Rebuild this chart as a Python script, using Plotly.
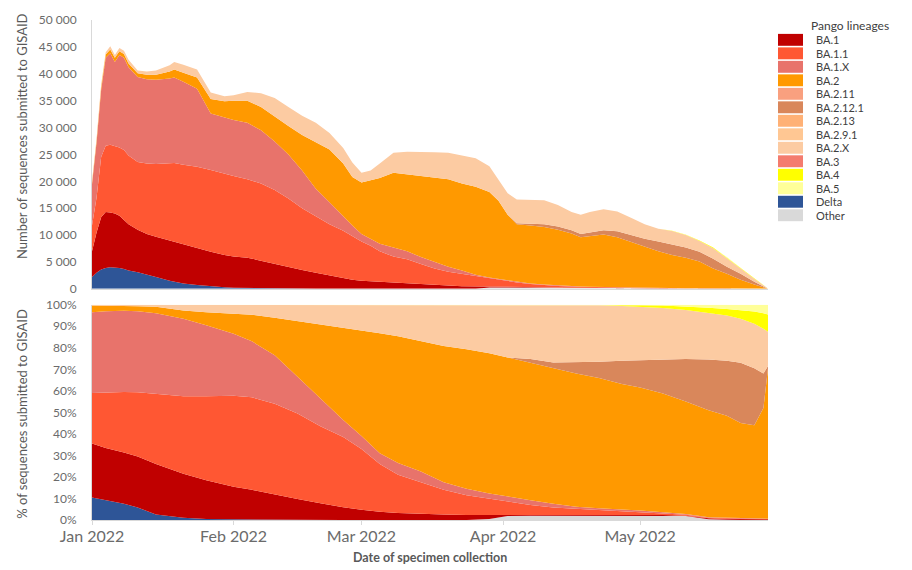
import pandas as pd
import plotly.graph_objects as go

START = pd.Timestamp("2022-01-01")

# ---------------- daily sequence counts (top panel) ----------------
count_days = [0, 1, 2, 3, 4, 5, 6, 7, 8, 10, 12, 14, 17, 18, 20, 23, 26, 29, 31, 34,
              37, 40, 43, 46, 49, 52, 55, 57, 59, 61, 63, 66, 69, 72, 75, 78, 81, 84, 87, 89,
              91, 93, 96, 99, 102, 105, 107, 109, 112, 115, 118, 121, 124, 127, 130, 133, 136, 139, 142, 145,
              147, 148]

other_n = [0, 0, 0, 0, 0, 0, 0, 0, 0, 0, 0, 0, 0, 0, 0, 0, 0, 0, 0, 0,
           0, 0, 0, 0, 0, 0, 0, 0, 0, 0, 0, 0, 0, 0, 0, 0, 0, 0, 250, 250,
           250, 250, 220, 220, 180, 180, 180, 180, 140, 140, 110, 90, 90, 70, 60, 50, 0, 0, 0, 0,
           0, 0]
delta_n = [2200, 3000, 3600, 3900, 4000, 4000, 3900, 3700, 3400, 3100, 2600, 2200, 1500, 1300, 1000, 700, 450, 300, 200, 150,
           100, 100, 50, 30, 20, 10, 0, 0, 0, 0, 0, 0, 0, 0, 0, 0, 0, 0, 0, 0,
           0, 0, 0, 0, 0, 0, 0, 0, 0, 0, 0, 0, 0, 0, 0, 0, 0, 0, 0, 0,
           0, 0]
ba1_n = [4800, 7500, 9700, 10400, 10200, 10000, 9700, 9100, 8600, 7900, 7600, 7500, 7500, 7400, 7200, 6800, 6450, 6000, 5800, 5650,
         5100, 4500, 4050, 3470, 2980, 2490, 2000, 1700, 1500, 1400, 1300, 1100, 950, 800, 700, 600, 500, 450, 150, 100,
         50, 50, 30, 30, 20, 20, 20, 20, 10, 10, 10, 10, 10, 10, 10, 10, 50, 40, 30, 20,
         10, 0]
ba11_n = [4800, 6500, 11200, 12300, 12600, 12500, 12700, 13000, 12800, 12600, 13100, 13500, 14300, 14700, 14900, 15200, 15200, 15100, 15000, 14600,
          14400, 13800, 12700, 11500, 10500, 9500, 8800, 8100, 7300, 6600, 5700, 4900, 4550, 3800, 3100, 2600, 2300, 1850, 1500, 1350,
          1100, 900, 650, 450, 350, 250, 200, 150, 150, 100, 80, 70, 50, 40, 30, 20, 20, 10, 10, 10,
          0, 0]
ba1x_n = [7600, 10200, 12500, 16400, 17000, 15700, 17200, 17200, 16400, 15800, 15700, 15700, 15800, 15900, 15400, 14500, 10500, 10400, 10400, 10500,
          9900, 9000, 8200, 7000, 5100, 4100, 2600, 2000, 1400, 1300, 1400, 1700, 1500, 1300, 1200, 900, 600, 300, 200, 200,
          200, 150, 100, 100, 70, 50, 50, 50, 40, 30, 30, 20, 20, 20, 20, 20, 10, 10, 10, 0,
          0, 0]
ba2_n = [300, 400, 500, 600, 700, 800, 700, 700, 700, 700, 800, 900, 1300, 1500, 1700, 2100, 2700, 3100, 3600, 4100,
         4300, 4600, 5300, 6600, 8600, 9800, 9900, 9000, 9600, 10900, 12200, 13900, 14300, 15100, 15600, 16300, 16200, 16400, 15900, 14500,
         12200, 10650, 10800, 10700, 10380, 9800, 9150, 9400, 9760, 9320, 8470, 7610, 6830, 6160, 5680, 5000, 3720, 2740, 1650, 770,
         240, 20]
ba2121_n = [0, 0, 0, 0, 0, 0, 0, 0, 0, 0, 0, 0, 0, 0, 0, 0, 0, 0, 0, 0,
            0, 0, 0, 0, 0, 0, 0, 0, 0, 0, 0, 0, 0, 0, 0, 0, 0, 0, 0, 0,
            0, 200, 300, 500, 600, 600, 600, 700, 800, 1100, 1300, 1500, 1800, 1900, 1900, 1800, 1800, 1300, 1100, 500,
            150, 10]
ba2x_n = [300, 400, 500, 400, 600, 500, 600, 600, 700, 500, 600, 800, 1200, 1400, 1500, 1500, 1200, 900, 1000, 1600,
          2600, 3500, 3500, 3600, 3700, 3100, 2900, 2700, 1800, 1800, 2700, 3700, 4200, 4500, 4800, 4900, 5200, 5300, 4800, 4000,
          4000, 4400, 4500, 4500, 4000, 3400, 3600, 3800, 3900, 3700, 3200, 2700, 2400, 2550, 2300, 1980, 1950, 1650, 1000, 600,
          260, 15]
ba4_n = [0, 0, 0, 0, 0, 0, 0, 0, 0, 0, 0, 0, 0, 0, 0, 0, 0, 0, 0, 0,
         0, 0, 0, 0, 0, 0, 0, 0, 0, 0, 0, 0, 0, 0, 0, 0, 0, 0, 0, 0,
         0, 0, 0, 0, 0, 0, 0, 0, 0, 0, 0, 0, 0, 50, 80, 100, 120, 120, 100, 70,
         30, 5]
ba5_n = [0, 0, 0, 0, 0, 0, 0, 0, 0, 0, 0, 0, 0, 0, 0, 0, 0, 0, 0, 0,
         0, 0, 0, 0, 0, 0, 0, 0, 0, 0, 0, 0, 0, 0, 0, 0, 0, 0, 0, 0,
         0, 0, 0, 0, 0, 0, 0, 0, 0, 0, 0, 0, 0, 0, 20, 20, 30, 30, 30, 30,
         10, 0]

# ---------------- share of sequences, % (bottom panel) ----------------
pct_days = [0, 3, 7, 10, 14, 20, 25, 31, 35, 40, 45, 50, 55, 59, 63, 67, 72, 77, 82, 87,
            91, 96, 101, 106, 111, 116, 120, 125, 130, 135, 139, 142, 145, 147, 148]

other_p = [0, 0, 0, 0, 0, 0, 0, 0, 0, 0, 0, 0, 0, 0, 0, 0, 0, 0, 0, 0.5,
           1.8, 2.0, 2.0, 2.0, 2.0, 2.0, 2.0, 2.0, 1.8, 0.3, 0, 0, 0, 0, 0]
delta_p = [10.5, 9.2, 7.5, 5.8, 2.5, 1.0, 0.5, 0.3, 0.2, 0.1, 0.05, 0, 0, 0, 0, 0, 0, 0, 0, 0,
           0, 0, 0, 0, 0, 0, 0, 0, 0, 0, 0, 0, 0, 0, 0]
ba1_p = [25.0, 24.3, 23.8, 23.7, 23.5, 20.5, 18.0, 15.2, 13.8, 11.7, 9.75, 7.8, 5.9, 4.8, 3.8, 3.2, 2.7, 2.5, 2.3, 1.8,
         0.5, 0.4, 0.4, 0.4, 0.3, 0.3, 0.3, 0.3, 0.2, 0.5, 0.5, 0.4, 0.3, 0.3, 0.3]
ba11_p = [23.5, 25.8, 28.2, 29.8, 32.6, 36.0, 39.0, 42.2, 43.0, 42.2, 39.7, 35.7, 32.6, 28.2, 22.2, 17.8, 14.8, 11.5, 9.2, 7.5,
          6.2, 4.6, 3.4, 2.8, 2.4, 1.9, 1.4, 0.9, 0.4, 0.3, 0.3, 0.3, 0.2, 0.2, 0.2]
ba1x_p = [37.5, 37.7, 37.7, 37.7, 37.4, 36.0, 33.0, 28.8, 26.0, 22.5, 17.0, 13.0, 8.0, 6.0, 5.0, 5.5, 5.0, 3.5, 3.0, 2.5,
          2.3, 2.2, 1.8, 1.0, 0.8, 0.8, 0.7, 0.4, 0.4, 0.2, 0.2, 0.1, 0.1, 0.1, 0.1]
ba2_p = [3.1, 2.6, 2.3, 2.3, 3.0, 3.8, 6.0, 9.3, 12.3, 17.5, 26.0, 34.5, 43.0, 49.3, 55.8, 58.8, 60.5, 63.3, 64.8, 65.2,
         64.7, 63.8, 63.1, 61.8, 60.5, 58.2, 57.1, 55.2, 52.2, 49.7, 47.4, 44.2, 43.4, 51.4, 69.9]
ba2121_p = [0, 0, 0, 0, 0, 0, 0, 0, 0, 0, 0, 0, 0, 0, 0, 0, 0, 0, 0, 0,
            0, 1.8, 2.5, 5.2, 7.5, 10.8, 12.8, 15.8, 19.8, 23.6, 25.6, 28.0, 26.5, 16.0, 1.0]
ba2x_p = [0.4, 0.4, 0.5, 0.7, 1.0, 2.7, 3.5, 4.2, 4.7, 6.0, 7.5, 9.0, 10.5, 11.7, 13.2, 14.7, 17.0, 19.2, 20.7, 22.5,
          24.5, 25.2, 26.8, 26.7, 26.2, 25.4, 24.7, 23.9, 22.8, 21.6, 21.0, 20.5, 20.7, 20.8, 16.0]
ba4_p = [0, 0, 0, 0, 0, 0, 0, 0, 0, 0, 0, 0, 0, 0, 0, 0, 0, 0, 0, 0,
         0, 0, 0, 0.1, 0.25, 0.4, 0.7, 1.1, 1.6, 2.4, 3.0, 4.0, 5.6, 7.2, 8.0]
ba5_p = [0, 0, 0, 0, 0, 0, 0, 0, 0, 0, 0, 0, 0, 0, 0, 0, 0, 0, 0, 0,
         0, 0, 0, 0, 0.05, 0.2, 0.3, 0.4, 0.8, 1.4, 2.0, 2.5, 3.2, 4.0, 4.5]

# ---------------- labels and colours ----------------
legend_names = ["BA.1", "BA.1.1", "BA.1.X", "BA.2", "BA.2.11", "BA.2.12.1", "BA.2.13",
                "BA.2.9.1", "BA.2.X", "BA.3", "BA.4", "BA.5", "Delta", "Other"]
palette = {
    "BA.1": "#C00000", "BA.1.1": "#FF5733", "BA.1.X": "#E8736B", "BA.2": "#FF9900",
    "BA.2.11": "#F9A07F", "BA.2.12.1": "#D9875B", "BA.2.13": "#FFB176", "BA.2.9.1": "#FFC793",
    "BA.2.X": "#FCCBA2", "BA.3": "#F47C6E", "BA.4": "#FFFF00", "BA.5": "#FFFF99",
    "Delta": "#2E5597", "Other": "#D9D9D9",
}
month_ticks = ["2022-01-01", "2022-02-01", "2022-03-01", "2022-04-01", "2022-05-01"]
month_text = ["Jan 2022", "Feb 2022", "Mar 2022", "Apr 2022", "May 2022"]

# bottom-to-top stacking order
stack_order = ["Other", "Delta", "BA.1", "BA.1.1", "BA.1.X", "BA.2", "BA.2.12.1", "BA.2.X", "BA.4", "BA.5"]
counts = {"Other": other_n, "Delta": delta_n, "BA.1": ba1_n, "BA.1.1": ba11_n, "BA.1.X": ba1x_n,
          "BA.2": ba2_n, "BA.2.12.1": ba2121_n, "BA.2.X": ba2x_n, "BA.4": ba4_n, "BA.5": ba5_n}
shares = {"Other": other_p, "Delta": delta_p, "BA.1": ba1_p, "BA.1.1": ba11_p, "BA.1.X": ba1x_p,
          "BA.2": ba2_p, "BA.2.12.1": ba2121_p, "BA.2.X": ba2x_p, "BA.4": ba4_p, "BA.5": ba5_p}

x_cnt = [START + pd.Timedelta(days=d) for d in count_days]
x_pct = [START + pd.Timedelta(days=d) for d in pct_days]

fig = go.Figure()
for name in stack_order:
    fig.add_trace(go.Scatter(
        x=x_cnt, y=counts[name], name=name, mode="lines", stackgroup="cnt",
        line=dict(width=0, color=palette[name]), fillcolor=palette[name],
        xaxis="x", yaxis="y", showlegend=False, hoverinfo="x+y+name"))
for name in stack_order:
    fig.add_trace(go.Scatter(
        x=x_pct, y=shares[name], name=name, mode="lines", stackgroup="pct", groupnorm="percent",
        line=dict(width=0, color=palette[name]), fillcolor=palette[name],
        xaxis="x2", yaxis="y2", showlegend=False, hoverinfo="x+y+name"))

# ---------------- layout ----------------
W, H = 912, 570
ML, MR, MT, MB = 92, 144, 16, 50
PW, PH = W - ML - MR, H - MT - MB


def px_x(p):
    return (p - ML) / PW


def px_y(p):
    return (H - MB - p) / PH


x_range = [START, START + pd.Timedelta(days=count_days[-1])]
tick_grey = "#6b6b6b"
axis_grey = "#d9d9d9"

fig.update_layout(
    width=W, height=H,
    margin=dict(l=ML, r=MR, t=MT, b=MB, pad=0),
    paper_bgcolor="white", plot_bgcolor="white",
    separators=". ",
    font=dict(family="Lato, 'Open Sans', sans-serif", color="#595959"),
    showlegend=False,
    xaxis=dict(domain=[0, 1], anchor="y", range=x_range, showticklabels=False, ticks="",
               showline=True, linecolor=axis_grey, linewidth=1, showgrid=False, zeroline=False),
    yaxis=dict(domain=[px_y(287), 1], anchor="x", range=[0, 50000], dtick=5000, tickformat=",d",
               showline=True, linecolor=axis_grey, linewidth=1, ticks="", ticklabelstandoff=12,
               tickfont=dict(size=12, color=tick_grey), showgrid=False, zeroline=False),
    xaxis2=dict(domain=[0, 1], anchor="y2", range=x_range, tickvals=month_ticks, ticktext=month_text,
                ticks="outside", ticklen=4, tickcolor=axis_grey, showline=True, linecolor=axis_grey,
                linewidth=1, tickfont=dict(size=16, color=tick_grey), ticklabelstandoff=-2,
                showgrid=False, zeroline=False),
    yaxis2=dict(domain=[0, px_y(303)], anchor="x2", range=[0, 100], dtick=10, ticksuffix="%",
                showline=True, linecolor=axis_grey, linewidth=1, ticks="", ticklabelstandoff=12,
                tickfont=dict(size=12, color=tick_grey), showgrid=False, zeroline=False),
)

annotations = [
    dict(text="Number of sequences submitted to GISAID", x=px_x(22), y=px_y(133), textangle=-90,
         font=dict(size=13, color="#595959")),
    dict(text="% of sequences submitted to GISAID", x=px_x(22), y=px_y(413), textangle=-90,
         font=dict(size=13, color="#595959")),
    dict(text="<b>Date of specimen collection</b>", x=px_x(430), y=px_y(558),
         font=dict(size=12.5, color="#595959")),
    dict(text="Pango lineages", x=px_x(850), y=px_y(22), font=dict(size=12, color="#404040")),
]
shapes = []
for i, name in enumerate(legend_names):
    yc = 36 + 13.6 * i
    shapes.append(dict(type="rect", xref="paper", yref="paper",
                       x0=px_x(778), x1=px_x(803), y0=px_y(yc + 6), y1=px_y(yc - 6),
                       fillcolor=palette[name], line=dict(width=0)))
    annotations.append(dict(text=name, x=px_x(815), y=px_y(yc), xanchor="left",
                            font=dict(size=11, color="#404040")))
for a in annotations:
    a.setdefault("xref", "paper")
    a.setdefault("yref", "paper")
    a.setdefault("showarrow", False)
    a.setdefault("xanchor", "center")
    a.setdefault("yanchor", "middle")
    a.setdefault("borderpad", 0)
fig.update_layout(annotations=annotations, shapes=shapes)

fig.write_html("out.html")
